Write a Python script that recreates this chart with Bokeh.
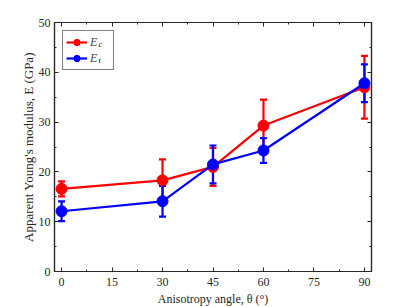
from bokeh.plotting import figure
from bokeh.models import (ColumnDataSource, Whisker, TeeHead, LinearAxis, Legend, LegendItem,
                          Range1d, SingleIntervalTicker, Label, CustomJSTickFormatter)
from bokeh.embed import file_html
from bokeh.resources import INLINE

# data
angles = [0, 30, 45, 60, 90]
Ec = [16.6, 18.3, 21.0, 29.3, 37.0]
Ec_err = [1.5, 4.2, 3.8, 5.2, 6.3]
Et = [12.1, 14.1, 21.5, 24.3, 37.8]
Et_err = [2.0, 3.1, 3.8, 2.5, 3.8]
x_ticks = [0, 15, 30, 45, 60, 75, 90]
y_ticks = [0, 10, 20, 30, 40, 50]

FONT = "Liberation Serif"
AX = "#262626"

p = figure(frame_width=317, frame_height=249, output_backend="svg", toolbar_location=None,
           x_range=Range1d(-2.1, 92.1), y_range=Range1d(0, 50),
           min_border_left=54, min_border_top=22, min_border_right=30, min_border_bottom=10)
p.xgrid.visible = False
p.ygrid.visible = False
p.outline_line_color = AX
p.outline_line_width = 1.2
p.background_fill_color = "white"
p.border_fill_color = "white"

def style(ax, ticks, minor, labels=True):
    ax.ticker = SingleIntervalTicker(interval=ticks, num_minor_ticks=minor)
    ax.major_tick_in = 4
    ax.major_tick_out = 0
    ax.minor_tick_in = 2
    ax.minor_tick_out = 0
    ax.axis_line_color = AX
    ax.major_tick_line_color = AX
    ax.minor_tick_line_color = AX
    ax.axis_line_width = 1.2
    ax.major_label_text_font = FONT
    ax.major_label_text_font_size = "12px"
    ax.major_label_text_color = AX
    ax.axis_label_text_font = FONT
    ax.axis_label_text_font_size = "12px"
    ax.axis_label_text_font_style = "normal"
    ax.axis_label_text_color = AX
    if not labels:
        ax.formatter = CustomJSTickFormatter(code="return ''")
        ax.major_label_standoff = 0

style(p.xaxis[0], 15, 2)
style(p.yaxis[0], 10, 2)
p.xaxis[0].axis_label = "Anisotropy angle, θ (°)"
p.yaxis[0].axis_label = "Apparent Young's modulus, E (GPa)"
p.yaxis[0].axis_label_text_font_size = "13px"
p.xaxis[0].major_label_standoff = 6
p.xaxis[0].axis_label_standoff = 3
p.yaxis[0].major_label_standoff = 4
p.yaxis[0].axis_label_standoff = 0

top = LinearAxis()
style(top, 15, 2, labels=False)
p.add_layout(top, "above")
right = LinearAxis()
style(right, 10, 2, labels=False)
p.add_layout(right, "right")

src_c = ColumnDataSource(dict(x=angles, y=Ec, lo=[a - b for a, b in zip(Ec, Ec_err)],
                              hi=[a + b for a, b in zip(Ec, Ec_err)]))
src_t = ColumnDataSource(dict(x=angles, y=Et, lo=[a - b for a, b in zip(Et, Et_err)],
                              hi=[a + b for a, b in zip(Et, Et_err)]))

items = []
for src, col in [(src_c, "#ff0000"), (src_t, "#0000ff")]:
    l = p.line("x", "y", source=src, line_color=col, line_width=2.2)
    w = Whisker(source=src, base="x", upper="hi", lower="lo", line_color=col, line_width=2.2,
                upper_head=TeeHead(size=7, line_color=col, line_width=2.2),
                lower_head=TeeHead(size=7, line_color=col, line_width=2.2))
    p.add_layout(w)
    c = p.scatter("x", "y", source=src, size=11, fill_color=col, line_color=col)
    items.append([l, c])

legend = Legend(items=[LegendItem(label="E\u2009", renderers=items[0]),
                       LegendItem(label="E\u2009", renderers=items[1])],
                location="top_left", margin=8, padding=3, spacing=0,
                glyph_width=21, glyph_height=16, label_height=16, label_standoff=3,
                label_text_font=FONT, label_text_font_size="12px",
                label_text_font_style="italic", border_line_color="black",
                border_line_width=1.2, background_fill_alpha=0)
p.add_layout(legend)

for sub, yy in [("c", 45.6), ("t", 42.4)]:
    p.add_layout(Label(x=11.0, y=yy, text=sub, text_font=FONT, text_font_size="8px",
                       text_font_style="italic", text_color="black", text_baseline="middle"))

open("out.html", "w").write(file_html(p, INLINE))
